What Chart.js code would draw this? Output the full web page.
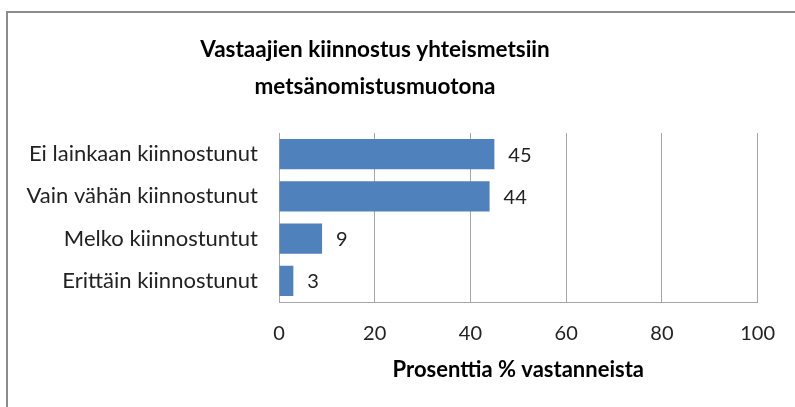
<!DOCTYPE html>
<html>
<head>
<meta charset="utf-8">
<script src="https://cdn.jsdelivr.net/npm/chart.js@4"></script>
<style>
  body { margin: 0; overflow: hidden; background: #fff; }
  #wrap { position: relative; width: 795px; height: 407px; }
  #frame { position: absolute; left: 6px; top: 11px; width: 820px; height: 430px; border: 2px solid #8c8c8c; box-sizing: border-box; }
  canvas { position: absolute; left: 0; top: 0; }
</style>
</head>
<body>
<div id="wrap">
  <div id="frame"></div>
  <canvas id="chart" width="795" height="407"></canvas>
</div>
<script>
// Data
const titleLines = ["Vastaajien kiinnostus yhteismetsiin", "metsänomistusmuotona"];
const categories = ["Ei lainkaan kiinnostunut", "Vain vähän kiinnostunut", "Melko kiinnostuntut", "Erittäin kiinnostunut"];
const values = [45, 44, 9, 3];
const axisTitle = "Prosenttia % vastanneista";

const fontFamily = "Lato, 'Open Sans', sans-serif";

// Title drawn left of the plot centre, like the original
const titlePlugin = {
    id: 'titleText',
    afterDraw(chart) {
        const ctx = chart.ctx;
        ctx.save();
        ctx.font = "bold 22.5px " + fontFamily;
        ctx.fillStyle = "#000";
        ctx.textAlign = "center";
        ctx.textBaseline = "middle";
        ctx.fillText(titleLines[0], 375, 50);
        ctx.fillText(titleLines[1], 375, 87);
        ctx.restore();
    }
};

// Value labels after the bar ends
const valueLabels = {
    id: 'valueLabels',
    afterDatasetsDraw(chart) {
        const ctx = chart.ctx;
        const meta = chart.getDatasetMeta(0);
        ctx.save();
        ctx.font = "20px " + fontFamily;
        ctx.fillStyle = "#222";
        ctx.textAlign = "left";
        ctx.textBaseline = "middle";
        meta.data.forEach((bar, i) => {
            ctx.fillText(values[i], bar.x + 14, bar.y + 1);
        });
        ctx.restore();
    }
};

new Chart(document.getElementById("chart"), {
    type: 'bar',
    data: {
        labels: categories,
        datasets: [{
            data: values,
            backgroundColor: '#4f81bd',
            borderWidth: 0
        }]
    },
    options: {
        indexAxis: 'y',
        responsive: false,
        animation: false,
        layout: { padding: { left: 0, right: 33, top: 133, bottom: 24 } },
        plugins: {
            legend: { display: false },
            tooltip: { enabled: false }
        },
        scales: {
            x: {
                min: 0,
                max: 100,
                ticks: {
                    stepSize: 20,
                    padding: 20,
                    color: '#222',
                    font: { family: fontFamily, size: 20 }
                },
                grid: { color: '#a6a6a6', drawTicks: false },
                border: { color: '#a6a6a6' },
                title: {
                    display: true,
                    text: axisTitle,
                    color: '#000',
                    padding: { top: 10, bottom: 0 },
                    font: { family: fontFamily, size: 22, weight: 'bold' }
                },
                afterFit(scale) { scale.height = 81; }
            },
            y: {
                ticks: {
                    padding: 21,
                    color: '#222',
                    font: { family: fontFamily, size: 22 }
                },
                grid: { display: false, drawTicks: false },
                border: { display: false },
                afterFit(scale) { scale.width = 279; }
            }
        }
    },
    plugins: [titlePlugin, valueLabels]
});
</script>
</body>
</html>
